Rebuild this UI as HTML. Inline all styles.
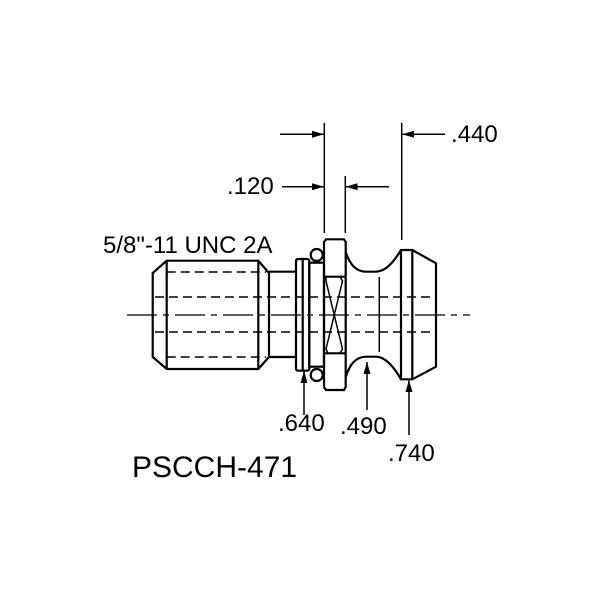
<!DOCTYPE html>
<html><head><style>
body{margin:0;background:#fff}
svg{display:block}
text{font-family:"Liberation Sans",Arial,sans-serif;fill:#000}
</style></head><body>
<svg width="600" height="600" viewBox="0 0 600 600" xmlns="http://www.w3.org/2000/svg">
<rect width="600" height="600" fill="#fff"/>
<defs>
<marker id="a" viewBox="0 0 12 7" refX="12" refY="3.5" markerWidth="12" markerHeight="7" markerUnits="userSpaceOnUse" orient="auto"><path d="M0,0L12,3.5L0,7z" fill="#000"/></marker>
</defs>
<g fill="none" stroke="#000" stroke-width="2.2">
<path d="M166.7,260.7 L258.3,260.7 L269,273 L269,357 L258.3,369 L166.7,369 L152.7,357 L152.7,273 Z"/>
<line x1="166.7" y1="260.7" x2="166.7" y2="369"/>
<line x1="258.3" y1="260.7" x2="258.3" y2="369"/>
<path d="M269,271.7 L296,271.7 M269,357 L296,357"/>
<rect x="296" y="259" width="13.3" height="111.7" rx="2"/>
<line x1="302.7" y1="259" x2="302.7" y2="370.7"/>
<rect x="309.3" y="262.7" width="14.7" height="104"/>
<circle cx="316.7" cy="255" r="6" fill="#fff"/>
<circle cx="316.7" cy="375" r="6" fill="#fff"/>
<path d="M326,239.3 L344,239.3 L345.7,242 L345.7,387 L344,390 L326,390 L324,387 L324,242 Z"/>
<line x1="324" y1="276.7" x2="345.7" y2="276.7"/>
<line x1="324" y1="353.3" x2="345.7" y2="353.3"/>
<path d="M326,276.7 L340,276.7 L342.5,281 L326,349 L328,353.3 L340,353.3 L342.5,349 L326,281 Z" stroke-width="1.5"/>
<path d="M345.7,252 Q352,271.7 366,271.7 L376,271.7 Q388,271.7 401,250 L412.3,250 L436,263.3 L436,366.7 L412.3,379.3 L401,379.3 Q388,356.7 376,356.7 L366,356.7 Q352,356.7 345.7,377"/>
<line x1="379.3" y1="277" x2="379.3" y2="352" stroke-width="1.5"/>
<line x1="401" y1="250" x2="401" y2="379.3"/>
<line x1="412.3" y1="250" x2="412.3" y2="379.3"/>
</g>
<g stroke="#000" stroke-width="1.5" stroke-dasharray="9,5" fill="none">
<line x1="166.7" y1="272" x2="266" y2="272"/>
<line x1="166.7" y1="357" x2="266" y2="357"/>
<line x1="155" y1="297" x2="435" y2="297"/>
<line x1="155" y1="332" x2="435" y2="332"/>
</g>
<line x1="127" y1="315" x2="470" y2="315" stroke="#000" stroke-width="1.3" stroke-dasharray="30,6,6,6"/>
<g stroke="#000" stroke-width="1.5" fill="none">
<line x1="324.3" y1="123" x2="324.3" y2="233"/>
<line x1="345.3" y1="176" x2="345.3" y2="233"/>
<line x1="401.7" y1="123" x2="401.7" y2="240"/>
<line x1="280" y1="134.3" x2="324" y2="134.3" marker-end="url(#a)"/>
<line x1="445" y1="134.3" x2="402" y2="134.3" marker-end="url(#a)"/>
<line x1="282" y1="186.7" x2="324" y2="186.7" marker-end="url(#a)"/>
<line x1="389" y1="186.7" x2="345.5" y2="186.7" marker-end="url(#a)"/>
<line x1="304" y1="415" x2="304" y2="371" marker-end="url(#a)"/>
<line x1="367" y1="410" x2="367" y2="362" marker-end="url(#a)"/>
<line x1="409" y1="435" x2="409" y2="380" marker-end="url(#a)"/>
</g>
<text x="451" y="142" font-size="24">.440</text>
<text x="227" y="194" font-size="24">.120</text>
<text x="103" y="253" font-size="24">5/8"-11 UNC 2A</text>
<text x="278" y="431" font-size="24">.640</text>
<text x="340" y="434" font-size="24">.490</text>
<text x="388" y="461" font-size="24">.740</text>
<text x="132" y="477" font-size="30">PSCCH-471</text>
</svg>
</body></html>
